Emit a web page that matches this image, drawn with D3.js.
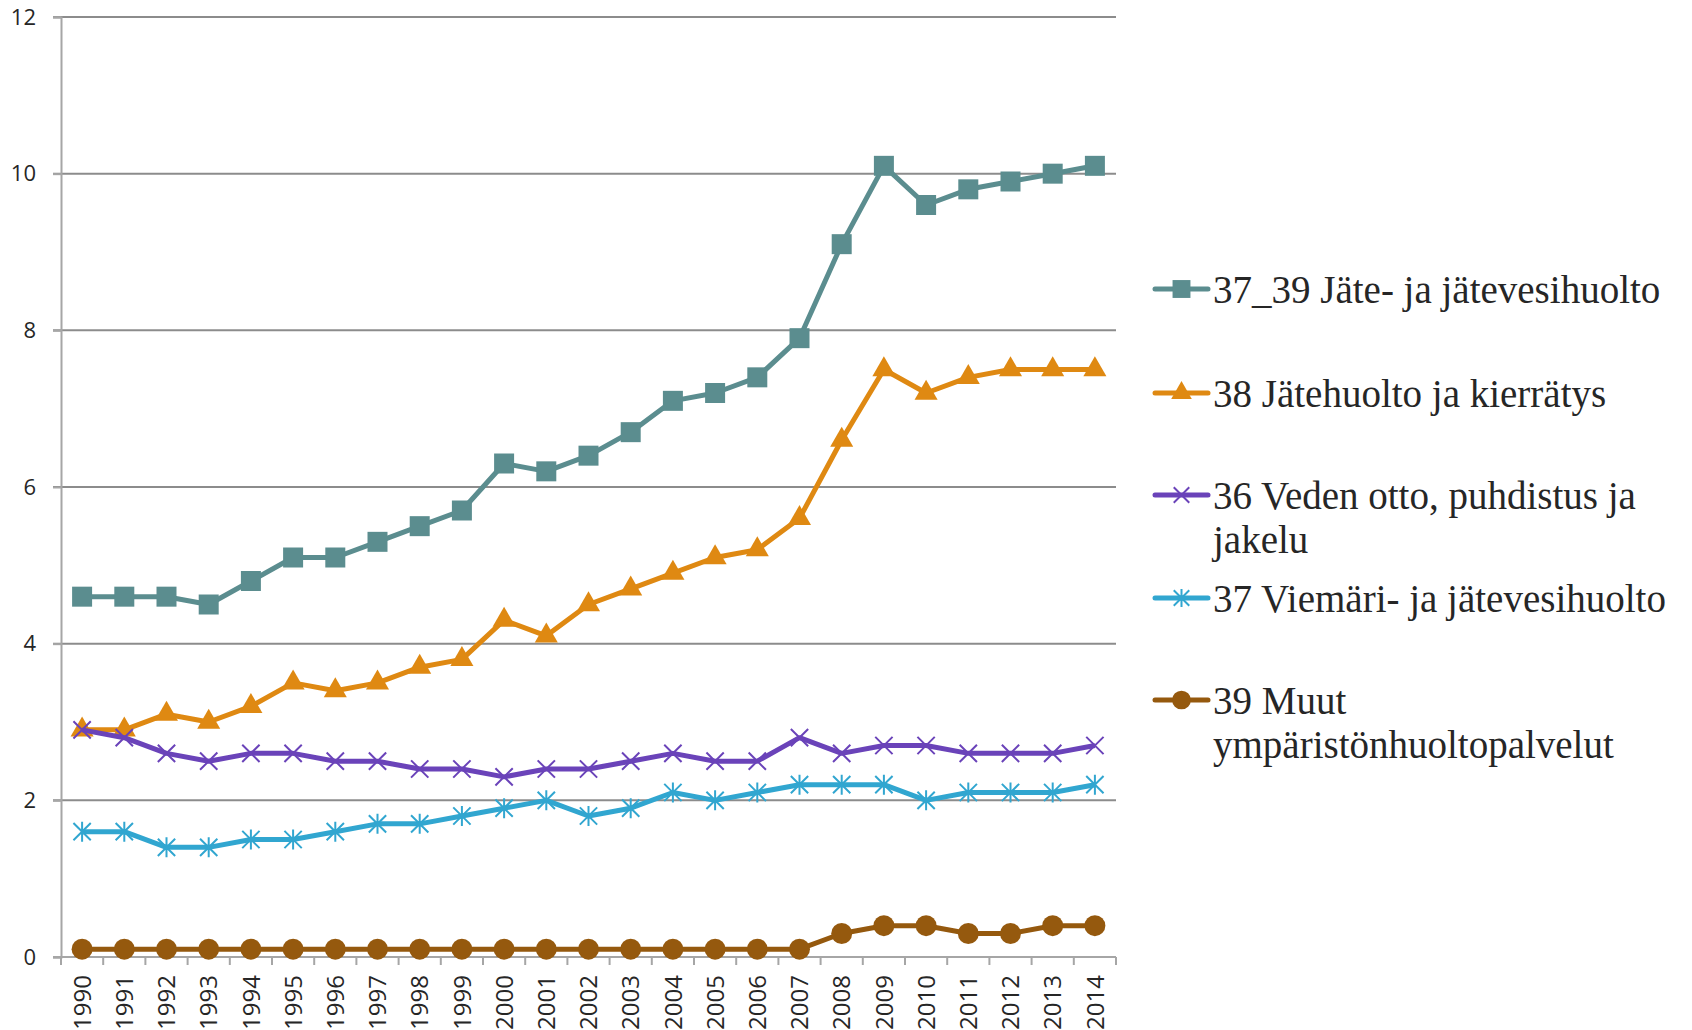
<!DOCTYPE html>
<html>
<head>
<meta charset="utf-8">
<script src="https://cdn.jsdelivr.net/npm/d3@7"></script>
<style>
  html, body { margin: 0; padding: 0; background: #fff; }
  svg { display: block; }
</style>
</head>
<body>
<div class="chart-container"></div>
<script>
const years = ["1990","1991","1992","1993","1994","1995","1996","1997","1998","1999","2000","2001","2002",
  "2003","2004","2005","2006","2007","2008","2009","2010","2011","2012","2013","2014"];
const yTicks = [0, 2, 4, 6, 8, 10, 12];

const jateJatevesi = [4.6,4.6,4.6,4.5,4.8,5.1,5.1,5.3,5.5,5.7,6.3,6.2,6.4,6.7,7.1,7.2,7.4,7.9,9.1,10.1,9.6,9.8,9.9,10.0,10.1];
const jatehuolto = [2.9,2.9,3.1,3.0,3.2,3.5,3.4,3.5,3.7,3.8,4.3,4.1,4.5,4.7,4.9,5.1,5.2,5.6,6.6,7.5,7.2,7.4,7.5,7.5,7.5];
const vedenOtto = [2.9,2.8,2.6,2.5,2.6,2.6,2.5,2.5,2.4,2.4,2.3,2.4,2.4,2.5,2.6,2.5,2.5,2.8,2.6,2.7,2.7,2.6,2.6,2.6,2.7];
const viemari = [1.6,1.6,1.4,1.4,1.5,1.5,1.6,1.7,1.7,1.8,1.9,2.0,1.8,1.9,2.1,2.0,2.1,2.2,2.2,2.2,2.0,2.1,2.1,2.1,2.2];
const muut = [0.1,0.1,0.1,0.1,0.1,0.1,0.1,0.1,0.1,0.1,0.1,0.1,0.1,0.1,0.1,0.1,0.1,0.1,0.3,0.4,0.4,0.3,0.3,0.4,0.4];

const seriesNames = [
  ["37_39 Jäte- ja jätevesihuolto"],
  ["38 Jätehuolto ja kierrätys"],
  ["36 Veden otto, puhdistus ja", "jakelu"],
  ["37 Viemäri- ja jätevesihuolto"],
  ["39 Muut", "ympäristönhuoltopalvelut"]
];

// custom stroke symbols (Excel-like x and asterisk)
const symX = {
  draw(ctx, size) {
    const r = Math.sqrt(size) / 2;
    ctx.moveTo(-r, -r); ctx.lineTo(r, r);
    ctx.moveTo(-r, r); ctx.lineTo(r, -r);
  }
};
const symStar = {
  draw(ctx, size) {
    const r = Math.sqrt(size) / 2;
    ctx.moveTo(-r, -r); ctx.lineTo(r, r);
    ctx.moveTo(-r, r); ctx.lineTo(r, -r);
    ctx.moveTo(0, -r * 1.15); ctx.lineTo(0, r * 1.15);
  }
};

const series = [
  { values: jateJatevesi, color: "#5b8d8f", type: d3.symbolSquare, size: 400, filled: true },
  { values: jatehuolto, color: "#df8912", type: d3.symbolTriangle, size: 230, filled: true },
  { values: vedenOtto, color: "#6a43b9", type: symX, size: 300, filled: false },
  { values: viemari, color: "#31a6d0", type: symStar, size: 300, filled: false },
  { values: muut, color: "#95590e", type: d3.symbolCircle, size: 345, filled: true }
];

function draw() {
  const width = 1692;
  const height = 1030;
  const marginTop = 17;
  const marginLeft = 61;
  const plotRight = 1116;
  const plotBottom = 957;

  const svg = d3.select('.chart-container').append("svg")
    .attr("width", width)
    .attr("height", height);

  const x = d3.scaleBand()
    .domain(years)
    .range([marginLeft, plotRight]);

  const y = d3.scaleLinear()
    .domain([0, 12])
    .range([plotBottom, marginTop]);

  // gridlines
  svg.append("g")
    .selectAll("line")
    .data(yTicks.filter(d => d > 0))
    .enter()
    .append("line")
    .attr("x1", marginLeft - 8)
    .attr("x2", plotRight)
    .attr("y1", d => y(d))
    .attr("y2", d => y(d))
    .attr("stroke", "#8c8c8c")
    .attr("stroke-width", 2);

  // y axis
  const yAxis = svg.append("g")
    .attr("transform", `translate(${marginLeft},0)`)
    .call(d3.axisLeft(y).tickValues(yTicks).tickSize(8).tickPadding(17).tickFormat(d3.format("d")));
  yAxis.select(".domain").attr("stroke", "#a6a6a6").attr("stroke-width", 2);
  yAxis.selectAll(".tick line").attr("stroke", "#a6a6a6").attr("stroke-width", 2);
  yAxis.selectAll("text")
    .attr("fill", "#262626")
    .style("font-family", "'Open Sans', 'Liberation Sans', sans-serif")
    .style("font-size", "22px");

  // x axis: ticks at band edges
  const xAxisG = svg.append("g")
    .attr("transform", `translate(0,${plotBottom})`);
  xAxisG.append("line")
    .attr("x1", marginLeft - 8)
    .attr("x2", plotRight)
    .attr("stroke", "#a6a6a6")
    .attr("stroke-width", 2);
  xAxisG.selectAll("line.tk")
    .data(years.concat(["end"]))
    .enter()
    .append("line")
    .attr("class", "tk")
    .attr("x1", (d, i) => i < years.length ? x(d) : x(years[years.length - 1]) + x.bandwidth())
    .attr("x2", (d, i) => i < years.length ? x(d) : x(years[years.length - 1]) + x.bandwidth())
    .attr("y1", 0)
    .attr("y2", 8)
    .attr("stroke", "#a6a6a6")
    .attr("stroke-width", 2);
  xAxisG.selectAll("text")
    .data(years)
    .enter()
    .append("text")
    .attr("transform", d => `translate(${x(d) + x.bandwidth() / 2},18) rotate(-90)`)
    .attr("text-anchor", "end")
    .attr("dy", "0.36em")
    .attr("fill", "#262626")
    .style("font-family", "'Open Sans', 'Liberation Sans', sans-serif")
    .style("font-size", "24px")
    .text(d => d);

  const cx = i => x(years[i]) + x.bandwidth() / 2;

  const line = d3.line()
    .x((d, i) => cx(i))
    .y(d => y(d));

  series.forEach(s => {
    const g = svg.append("g");
    g.append("path")
      .datum(s.values)
      .attr("fill", "none")
      .attr("stroke", s.color)
      .attr("stroke-width", 5)
      .attr("stroke-linejoin", "round")
      .attr("d", line);
    g.selectAll("path.m")
      .data(s.values)
      .enter()
      .append("path")
      .attr("class", "m")
      .attr("transform", (d, i) => `translate(${cx(i)},${y(d)})`)
      .attr("d", d3.symbol().type(s.type).size(s.size))
      .attr("fill", s.filled ? s.color : "none")
      .attr("stroke", s.color)
      .attr("stroke-width", s.filled ? 0 : 2);
  });

  // legend
  const legendY = [289, 393, 495, 598, 700];
  const legend = svg.append("g");
  series.forEach((s, k) => {
    const gy = legendY[k];
    const lg = legend.append("g").attr("transform", `translate(1155,${gy})`);
    lg.append("line")
      .attr("x1", 0).attr("x2", 53)
      .attr("stroke", s.color)
      .attr("stroke-width", 5)
      .attr("stroke-linecap", "round");
    lg.append("path")
      .attr("transform", "translate(26.5,0)")
      .attr("d", d3.symbol().type(s.type).size(s.size * 0.8))
      .attr("fill", s.filled ? s.color : "none")
      .attr("stroke", s.color)
      .attr("stroke-width", s.filled ? 0 : 2);
    lg.selectAll("text")
      .data(seriesNames[k])
      .enter()
      .append("text")
      .attr("x", 58)
      .attr("y", (d, i) => i * 44)
      .attr("dy", "0.35em")
      .attr("fill", "#262626")
      .style("font-family", "'Liberation Serif', 'DejaVu Serif', serif")
      .style("font-size", "39px")
      .text(d => d);
  });
}

draw();
</script>
</body>
</html>
